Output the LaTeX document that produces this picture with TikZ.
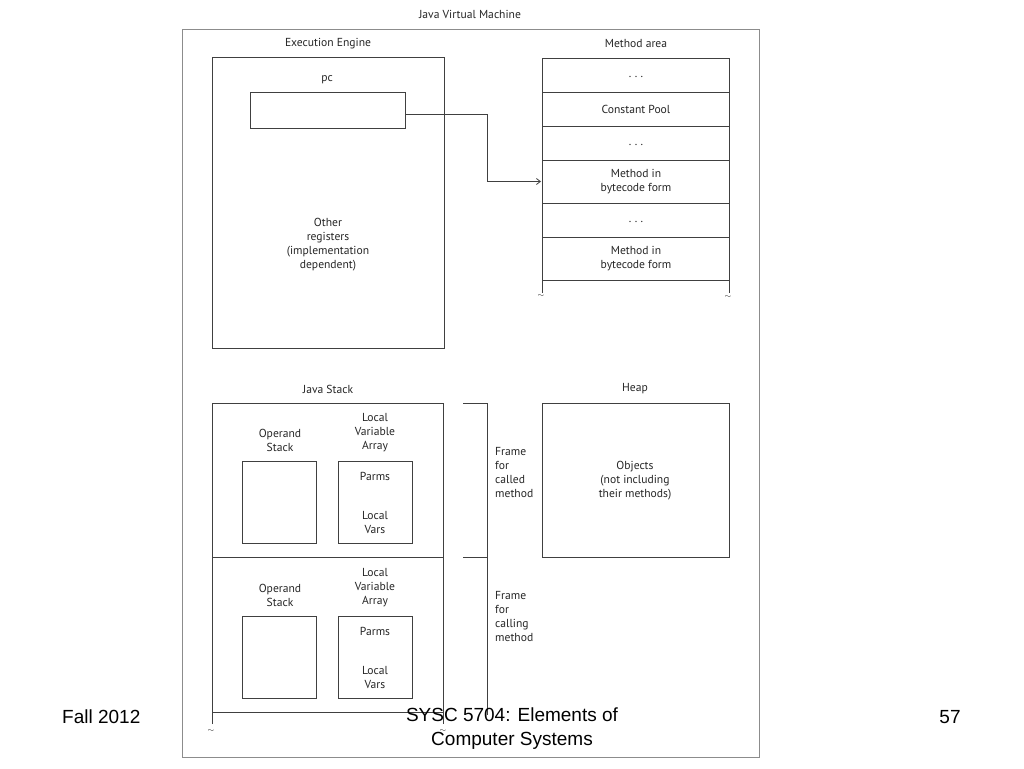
\documentclass[tikz,border=0pt]{standalone}
\usepackage{fontspec}
\setmainfont{PT Sans}
\newfontfamily\footfont{Liberation Sans}
\usetikzlibrary{arrows.meta}
\newcommand{\mydots}{.\hspace{3.5pt}.\hspace{3.5pt}.}
\begin{document}
\begin{tikzpicture}[x=1pt,y=-1pt,
  box/.style={draw=black!75,line width=0.8pt},
  lbl/.style={font=\fontsize{11.6}{14}\selectfont,text=black!85,align=center,inner sep=0pt},
  lft/.style={font=\fontsize{11.6}{14}\selectfont,text=black!85,align=left,inner sep=0pt,anchor=north west},
  tld/.style={font=\fontsize{8}{9}\selectfont,text=black!80,inner sep=0pt},
  foot/.style={font=\footfont\fontsize{19}{24}\selectfont,align=center,inner sep=0pt},
  ln/.style={draw=black!75,line width=0.8pt}]
\useasboundingbox[fill=white] (0,0) rectangle (1024,768);
% outer JVM box
\draw[draw=black!45,line width=0.8pt] (182,29) rectangle (759,757);
\node[lbl] (jvm) at (470,14) {Java Virtual Machine};
% execution engine
\node[lbl] (eelbl) at (328,44) {Execution Engine};
\draw[box] (212,57) rectangle (444,348);
\node[lbl] (pclbl) at (327,80) {pc};
\node[box,minimum width=155pt,minimum height=36pt,inner sep=0pt] (pc) at (327.5,110) {};
\node[lbl] (other) at (328,245) {Other\\registers\\(implementation\\dependent)};
% method area
\node[lbl] (malbl) at (636,44) {Method area};
\draw[ln] (542,293) -- (542,58) -- (729,58) -- (729,293);
\foreach \yy in {92,126,160,203,237,280} \draw[ln] (542,\yy) -- (729,\yy);
\node[lbl] (m1) at (636,77) {\mydots};
\node[lbl] (cp) at (636,109) {Constant Pool};
\node[lbl] (m2) at (636,145) {\mydots};
\node[lbl] (mb1) at (636,181.5) {Method in\\bytecode form};
\coordinate (mb1w) at (541,181.5);
\node[lbl] (m3) at (636,222) {\mydots};
\node[lbl] (mb2) at (636,258.5) {Method in\\bytecode form};
\node[tld] (t1) at (541,296) {$\sim$};
\node[tld] (t2) at (728,297) {$\sim$};
% arrow pc -> method
\coordinate (bend1) at (487,114);
\coordinate (bend2) at (487,181.5);
\draw[ln,-{Straight Barb[length=4pt,width=6pt]}] (pc.east |- bend1) -- (bend1) -- (bend2) -- (mb1w);
% Java stack
\node[lbl] (jslbl) at (328,389) {Java Stack};
\draw[ln] (212,724) -- (212,403) -- (443,403) -- (443,724);
\draw[ln] (212,557) -- (443,557);
\draw[ln] (212,712) -- (443,712);
\node[tld] (t3) at (211,731) {$\sim$};
\node[tld] (t4) at (443,731) {$\sim$};
% frame 1
\node[lbl] (os1) at (280,440) {Operand\\Stack};
\draw[box] (242,461) rectangle (316,543);
\node[lbl] (lva1) at (375,433) {Local\\Variable\\Array};
\draw[box] (338,461) rectangle (412,543);
\node[lbl] (parms1) at (375,476) {Parms};
\node[lbl] (lv1) at (375,523) {Local\\Vars};
% frame 2
\node[lbl] (os2) at (280,595) {Operand\\Stack};
\draw[box] (242,616) rectangle (316,698);
\node[lbl] (lva2) at (375,588) {Local\\Variable\\Array};
\draw[box] (338,616) rectangle (412,698);
\node[lbl] (parms2) at (375,631) {Parms};
\node[lbl] (lv2) at (375,677) {Local\\Vars};
% brackets
\draw[ln] (463,403) -- (487,403) -- (487,715);
\draw[ln] (463,557) -- (487,557);
\node[lft] (fr1) at (495,447) {Frame\\for\\called\\method};
\node[lft] (fr2) at (495,591) {Frame\\for\\calling\\method};
% heap
\node[lbl] (heaplbl) at (635,389) {Heap};
\draw[box] (542,403) rectangle (729,557);
\node[lbl] (obj) at (635,481) {Objects\\(not including\\their methods)};
% footer
\node[foot,anchor=west] (fall) at (62,717) {Fall 2012};
\node[foot] (sysc) at (512,729) {SYSC 5704: Elements of\\Computer Systems};
\node[foot] (pg) at (950,717) {57};
\end{tikzpicture}
\end{document}
